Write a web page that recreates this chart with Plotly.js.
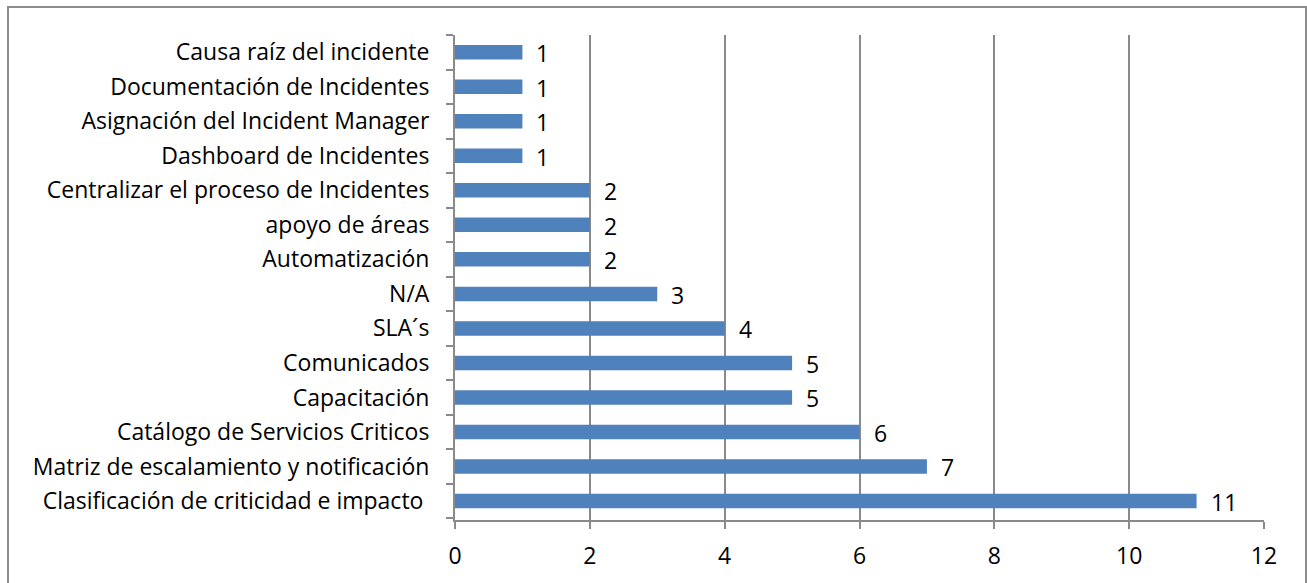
<!DOCTYPE html>
<html><head><meta charset="utf-8">
<script src="https://cdn.plot.ly/plotly-3.0.1.min.js"></script>
<style>
html,body{margin:0;padding:0;background:#fff;}
#frame{position:absolute;left:7px;top:6px;width:1300px;height:590px;border:2px solid #8c8c8c;box-sizing:border-box;pointer-events:none;z-index:5;}
#chart{position:absolute;left:0;top:0;width:1307px;height:583px;}
</style></head>
<body>
<div id="chart"></div>
<div id="frame"></div>
<script>
// categories listed bottom to top
const categories = [
  "Clasificación de criticidad e impacto ",
  "Matriz de escalamiento y notificación",
  "Catálogo de Servicios Criticos",
  "Capacitación",
  "Comunicados",
  "SLA´s",
  "N/A",
  "Automatización",
  "apoyo de áreas",
  "Centralizar el proceso de Incidentes",
  "Dashboard de Incidentes",
  "Asignación del Incident Manager",
  "Documentación de Incidentes",
  "Causa raíz del incidente"
];
const values = [11, 7, 6, 5, 5, 4, 3, 2, 2, 2, 1, 1, 1, 1];
const xTicks = [0, 2, 4, 6, 8, 10, 12];

const font = {family: "'Open Sans', sans-serif", size: 23, color: "#000"};

const trace = {
  type: "bar",
  orientation: "h",
  y: categories,
  x: values,
  marker: {color: "#4F81BD"},
  hoverinfo: "x+y"
};

const annotations = values.map((v, i) => ({
  x: v, y: categories[i], xref: "x", yref: "y",
  text: String(v), showarrow: false, xanchor: "left", xshift: 12, yshift: -1,
  font: font
}));

const layout = {
  width: 1307, height: 583,
  margin: {l: 455, r: 43, t: 35, b: 63, pad: 0},
  paper_bgcolor: "#fff", plot_bgcolor: "#fff",
  showlegend: false,
  bargap: 0.58,
  font: font,
  xaxis: {
    range: [0, 12], tickvals: xTicks, ticktext: xTicks.map(String),
    showgrid: true, gridcolor: "#8a8a8a", gridwidth: 2,
    showline: true, linecolor: "#8a8a8a", linewidth: 2,
    ticks: "outside", ticklen: 7, tickcolor: "#8a8a8a", tickwidth: 2,
    ticklabelstandoff: 7,
    zeroline: false, fixedrange: true, tickfont: font
  },
  yaxis: {
    type: "category",
    showgrid: false,
    showline: true, linecolor: "#8a8a8a", linewidth: 2,
    ticks: "outside", ticklen: 7, tickcolor: "#8a8a8a", tickwidth: 2,
    tickson: "boundaries",
    ticklabelstandoff: 19,
    fixedrange: true, tickfont: font
  },
  annotations: annotations
};

Plotly.newPlot("chart", [trace], layout, {displayModeBar: false, staticPlot: true});
</script>
</body></html>
